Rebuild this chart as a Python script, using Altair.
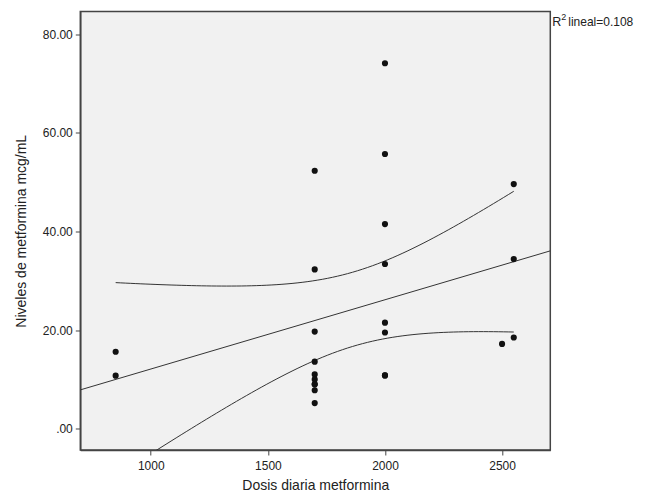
import altair as alt
import numpy as np
import pandas as pd

# Dosis diaria (mg) and niveles (mcg/mL)
# (some points overlap exactly: two at 1700/9.0 and two at 2000/10.8)
dose_850 = [15.6, 10.75]
dose_1700 = [52.3, 32.3, 19.7, 13.6, 11.0, 10.0, 9.0, 9.0, 7.8, 5.2]
dose_2000 = [74.1, 55.7, 41.5, 33.4, 21.5, 19.5, 10.8, 10.8]
dose_2500 = [17.2]
dose_2550 = [49.6, 34.4, 18.5]
r2_label = "0.108"

groups = {850: dose_850, 1700: dose_1700, 2000: dose_2000, 2500: dose_2500, 2550: dose_2550}
xs, ys = [], []
for d, vals in groups.items():
    for v in vals:
        xs.append(d)
        ys.append(v)
x = np.array(xs, dtype=float)
y = np.array(ys, dtype=float)
pts = pd.DataFrame({"dosis": x, "nivel": y})

# Linear fit and 95% confidence band of the mean (as SPSS draws it)
n = len(x)
xbar, ybar = x.mean(), y.mean()
sxx = ((x - xbar) ** 2).sum()
sxy = ((x - xbar) * (y - ybar)).sum()
b = sxy / sxx
a = ybar - b * xbar
resid = y - (a + b * x)
s = np.sqrt((resid ** 2).sum() / (n - 2))
t_table = {18: 2.101, 19: 2.093, 20: 2.086, 21: 2.080, 22: 2.074, 23: 2.069, 24: 2.064}
t = t_table.get(n - 2, 2.07)

x_domain = [699, 2706]
y_domain = [-4.32, 84.6]

fit = pd.DataFrame({"dosis": x_domain, "nivel": [a + b * v for v in x_domain]})
xg = np.linspace(x.min(), x.max(), 80)
hw = t * s * np.sqrt(1.0 / n + (xg - xbar) ** 2 / sxx)
band = pd.concat([
    pd.DataFrame({"dosis": xg, "nivel": a + b * xg + hw, "lado": "sup"}),
    pd.DataFrame({"dosis": xg, "nivel": a + b * xg - hw, "lado": "inf"}),
])

FONT = "Liberation Sans"
W, H = 470, 438.5

xs_ = alt.Scale(domain=x_domain, nice=False, zero=False)
ys_ = alt.Scale(domain=y_domain, nice=False, zero=False)

xenc = alt.X("dosis:Q", scale=xs_, axis=alt.Axis(
    title="Dosis diaria metformina", values=[1000, 1500, 2000, 2500], format="d",
    grid=False, tickSize=5, tickColor="#444", domainColor="#444", domainWidth=1.5,
    labelFont=FONT, labelFontSize=12, labelColor="#222", labelPadding=6,
    titleFont=FONT, titleFontSize=14, titleFontWeight="normal", titleColor="#222",
    titlePadding=7))
yenc = alt.Y("nivel:Q", scale=ys_, axis=alt.Axis(
    title="Niveles de metformina mcg/mL", values=[0, 20, 40, 60, 80],
    labelExpr="datum.value == 0 ? '.00' : format(datum.value, '.2f')",
    grid=False, tickSize=5, tickColor="#444", domainColor="#444", domainWidth=1.5,
    labelFont=FONT, labelFontSize=12, labelColor="#222", labelPadding=3,
    titleFont=FONT, titleFontSize=14, titleFontWeight="normal", titleColor="#222",
    titlePadding=14))

points = alt.Chart(pts).mark_circle(size=38, color="#111", opacity=1).encode(x=xenc, y=yenc)
line = alt.Chart(fit).mark_line(color="#333", strokeWidth=1, clip=True).encode(x=xenc, y=yenc)
bands = alt.Chart(band).mark_line(color="#333", strokeWidth=1, clip=True).encode(
    x=xenc, y=yenc, detail="lado:N")

lab_df = pd.DataFrame({"t": ["R"], "s": ["2"], "r": ["lineal=" + r2_label]})
lab_r = alt.Chart(lab_df).mark_text(
    font=FONT, fontSize=12.5, align="left", baseline="alphabetic", color="#222"
).encode(x=alt.value(W + 2), y=alt.value(14), text="t:N")
lab_s = alt.Chart(lab_df).mark_text(
    font=FONT, fontSize=9, align="left", baseline="alphabetic", color="#222"
).encode(x=alt.value(W + 11), y=alt.value(8), text="s:N")
lab_t = alt.Chart(lab_df).mark_text(
    font=FONT, fontSize=12, align="left", baseline="alphabetic", color="#222"
).encode(x=alt.value(W + 18), y=alt.value(14), text="r:N")

chart = alt.layer(bands, line, points, lab_r, lab_s, lab_t).properties(
    width=W, height=H,
    autosize=alt.AutoSizeParams(type="none"),
    padding={"left": 72.3, "top": 3.5, "right": 86, "bottom": 44},
    background="white",
).configure_view(fill="#f1f1f1", stroke="#444", strokeWidth=1.5)

chart.save("out.html", embed_options={"renderer": "svg", "actions": False})
